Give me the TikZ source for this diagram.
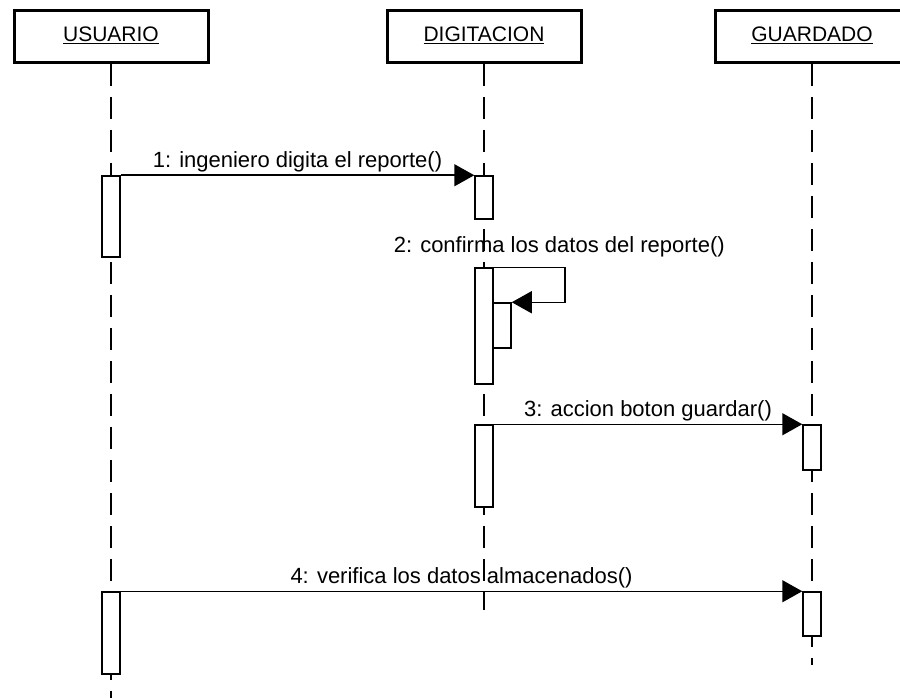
\documentclass[tikz,border=0pt]{standalone}
\usepackage{fontspec}
\setmainfont{Liberation Sans}
\usetikzlibrary{arrows.meta}
\usetikzlibrary{positioning}
\tikzset{
    actor/.style={
           rectangle,
           draw=black, line width=3pt,
           minimum width=194pt,
           minimum height=52pt,
           inner sep=2pt,
           text centered,
           font=\fontsize{21}{25}\selectfont,
           },
    bar/.style={
           rectangle,
           draw=black, line width=1.5pt,
           fill=white,
           minimum width=18pt,
           inner sep=0pt,
           },
    lifeline/.style={
           draw=black, line width=1.5pt,
           dash pattern=on 22pt off 11pt,
           },
    msg/.style={
           draw=black, line width=1.5pt,
           -{Triangle[length=20pt,width=22pt]},
           },
    msgtext/.style={
           inner sep=2pt,
           font=\fontsize{22}{26}\selectfont,
           }
}

\begin{document}
\begin{tikzpicture}[x=1pt,y=1pt]
 \useasboundingbox (0,0) rectangle (900,-698);

 % the three objects
 \node[actor] (USUARIO) at (111,-36.5)
  {\raisebox{4pt}{\underline{USUARIO}}};

 \node[actor,
 right of=USUARIO,
 node distance=373pt] (DIGITACION)
  {\raisebox{4pt}{\underline{DIGITACION}}};

 \node[actor,
 right of=DIGITACION,
 node distance=328pt] (GUARDADO)
  {\raisebox{4pt}{\underline{GUARDADO}}};

 % where the lifelines stop
 \coordinate[below of=USUARIO, node distance=661.5pt] (uEnd);
 \coordinate[below of=DIGITACION, node distance=573.5pt] (dEnd);
 \coordinate[below of=GUARDADO, node distance=628.5pt] (gEnd);

 \path[lifeline]
 (USUARIO.south) -- (uEnd)
 (DIGITACION.south) -- (dEnd)
 (GUARDADO.south) -- (gEnd)
 ;

 % activation bars
 \node[bar, minimum height=81pt, below of=USUARIO, node distance=180pt] (uAct1) {};
 \node[bar, minimum height=43pt, below of=DIGITACION, node distance=161pt] (dAct1) {};
 \node[bar, minimum height=116pt, below of=DIGITACION, node distance=289.5pt] (dAct2) {};
 \node[bar, minimum height=45pt, below of=DIGITACION, node distance=289pt,
 xshift=18pt] (dNest) {};
 \node[bar, minimum height=82pt, below of=DIGITACION, node distance=429.5pt] (dAct3) {};
 \node[bar, minimum height=45pt, below of=GUARDADO, node distance=411pt] (gAct1) {};
 \node[bar, minimum height=82pt, below of=USUARIO, node distance=596.5pt] (uAct2) {};
 \node[bar, minimum height=44pt, below of=GUARDADO, node distance=577.5pt] (gAct2) {};

 % the messages
 \draw[msg] (uAct1.north east) --
  node[msgtext, above] (m1) {1: ingeniero digita el reporte()}
  (dAct1.north west);

 \draw[msg] (dAct2.north east) --
  node[msgtext, above=7pt, xshift=30pt] (m2) {2: confirma los datos del reporte()}
  ++(71,0) |- (dNest.north east);

 \draw[msg] (dAct3.north east) --
  node[msgtext, above] (m3) {3: accion boton guardar()}
  (gAct1.north west);

 \draw[msg] (uAct2.north east) --
  node[msgtext, above] (m4) {4: verifica los datos almacenados()}
  (gAct2.north west);

\end{tikzpicture}
\end{document}
